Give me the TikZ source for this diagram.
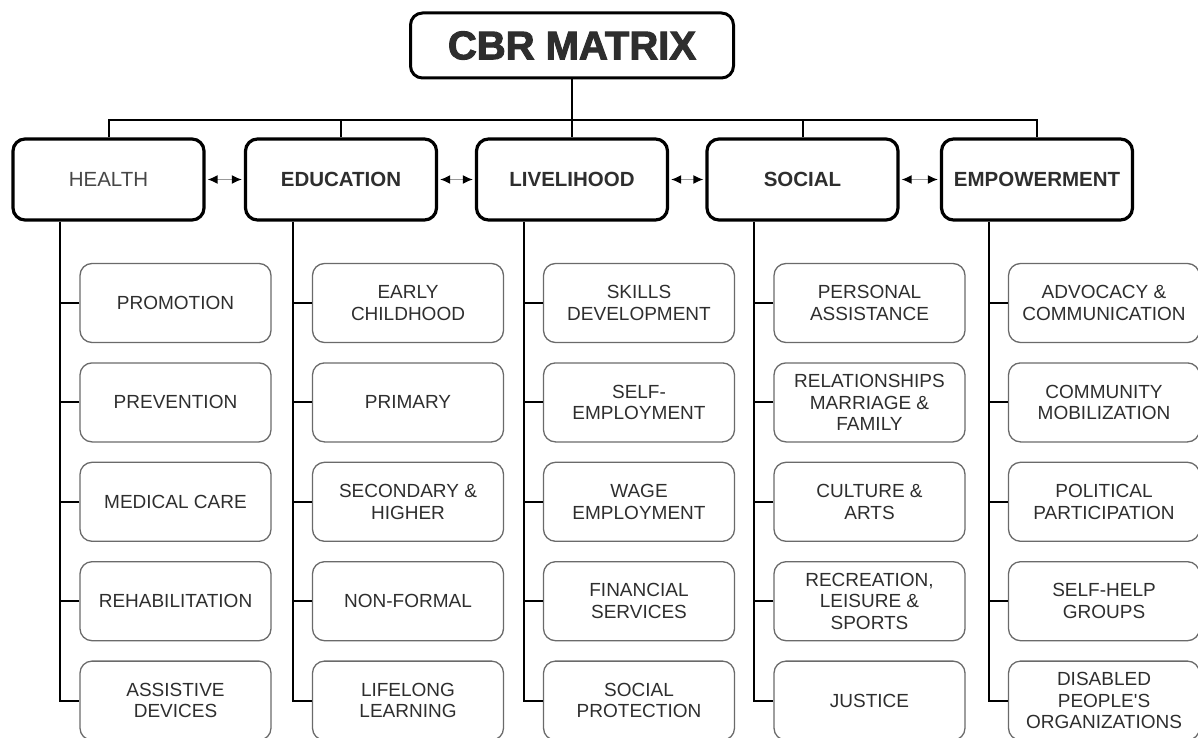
\documentclass[tikz,border=0pt]{standalone}
\usepackage{fontspec}
\setmainfont{Liberation Sans}
\newfontfamily\titlefont[FakeBold=2.5]{Liberation Sans Bold}
\usetikzlibrary{arrows.meta}
\definecolor{txt}{HTML}{2E2E2E}
\definecolor{subline}{HTML}{6A6A6A}
\begin{document}
\begin{tikzpicture}[x=1pt,y=-1pt,
  titlebox/.style={draw, line width=3pt, rounded corners=12pt, minimum width=323pt, minimum height=65pt, inner sep=0pt, text=txt, font=\titlefont\fontsize{40}{42}\selectfont},
  catbox/.style={draw, line width=3.2pt, rounded corners=12pt, minimum width=191pt, minimum height=81pt, inner sep=0pt, text=txt, font=\fontsize{20.5}{22}\selectfont\bfseries},
  catlight/.style={catbox, text=black!72, font=\fontsize{20.5}{22}\selectfont},
  subbox/.style={draw=subline, line width=1.3pt, rounded corners=12pt, minimum width=191pt, minimum height=79pt, inner sep=0pt, text=txt, align=center, font=\fontsize{19}{21.7}\selectfont},
  link/.style={line width=2pt},
  biarrow/.style={draw=black!40, line width=1.5pt, shorten >=2pt, shorten <=2pt, {Latex[length=10pt,width=9pt,black]}-{Latex[length=10pt,width=9pt,black]}}
]
\useasboundingbox (0,0) rectangle (1198,738);

% title
\node[titlebox] (t) at (572,45.5) {CBR MATRIX};

% categories
\node[catlight] (c1) at (108.5,179.5) {HEALTH};
\node[catbox] (c2) at (341,179.5) {EDUCATION};
\node[catbox] (c3) at (572,179.5) {LIVELIHOOD};
\node[catbox] (c4) at (802.5,179.5) {SOCIAL};
\node[catbox] (c5) at (1037,179.5) {EMPOWERMENT};

% bus
\draw[link] (t.south) -- (c3.north);
\draw[link] (c1.north) -- ++(0,-17) -| (c5.north);
\draw[link] (c2.north) -- ++(0,-17);
\draw[link] (c4.north) -- ++(0,-17);

% arrows between categories
\draw[biarrow] (c1.east) -- (c2.west);
\draw[biarrow] (c2.east) -- (c3.west);
\draw[biarrow] (c3.east) -- (c4.west);
\draw[biarrow] (c4.east) -- (c5.west);

% sub boxes: HEALTH
\node[subbox] (s1-1) at (175.5,303) {PROMOTION};
\node[subbox] (s1-2) at (175.5,402.4) {PREVENTION};
\node[subbox] (s1-3) at (175.5,501.8) {MEDICAL CARE};
\node[subbox] (s1-4) at (175.5,601.2) {REHABILITATION};
\node[subbox] (s1-5) at (175.5,700.6) {ASSISTIVE\\DEVICES};
% EDUCATION
\node[subbox] (s2-1) at (408,303) {EARLY\\CHILDHOOD};
\node[subbox] (s2-2) at (408,402.4) {PRIMARY};
\node[subbox] (s2-3) at (408,501.8) {SECONDARY \&\\HIGHER};
\node[subbox] (s2-4) at (408,601.2) {NON-FORMAL};
\node[subbox] (s2-5) at (408,700.6) {LIFELONG\\LEARNING};
% LIVELIHOOD
\node[subbox] (s3-1) at (639,303) {SKILLS\\DEVELOPMENT};
\node[subbox] (s3-2) at (639,402.4) {SELF-\\EMPLOYMENT};
\node[subbox] (s3-3) at (639,501.8) {WAGE\\EMPLOYMENT};
\node[subbox] (s3-4) at (639,601.2) {FINANCIAL\\SERVICES};
\node[subbox] (s3-5) at (639,700.6) {SOCIAL\\PROTECTION};
% SOCIAL
\node[subbox] (s4-1) at (869.5,303) {PERSONAL\\ASSISTANCE};
\node[subbox] (s4-2) at (869.5,402.4) {RELATIONSHIPS\\MARRIAGE \&\\FAMILY};
\node[subbox] (s4-3) at (869.5,501.8) {CULTURE \&\\ARTS};
\node[subbox] (s4-4) at (869.5,601.2) {RECREATION,\\LEISURE \&\\SPORTS};
\node[subbox] (s4-5) at (869.5,700.6) {JUSTICE};
% EMPOWERMENT
\node[subbox] (s5-1) at (1104,303) {ADVOCACY \&\\COMMUNICATION};
\node[subbox] (s5-2) at (1104,402.4) {COMMUNITY\\MOBILIZATION};
\node[subbox] (s5-3) at (1104,501.8) {POLITICAL\\PARTICIPATION};
\node[subbox] (s5-4) at (1104,601.2) {SELF-HELP\\GROUPS};
\node[subbox] (s5-5) at (1104,700.6) {DISABLED\\PEOPLE\textquotesingle S\\ORGANIZATIONS};

% trunks and branches
\foreach \c in {1,...,5}{
  \draw[link] ([xshift=-48.5pt]c\c.south) |- (s\c-5.west);
  \foreach \j in {1,...,4}{
    \draw[link] (s\c-\j.west) -- ++(-20,0);
  }
}
\end{tikzpicture}
\end{document}
